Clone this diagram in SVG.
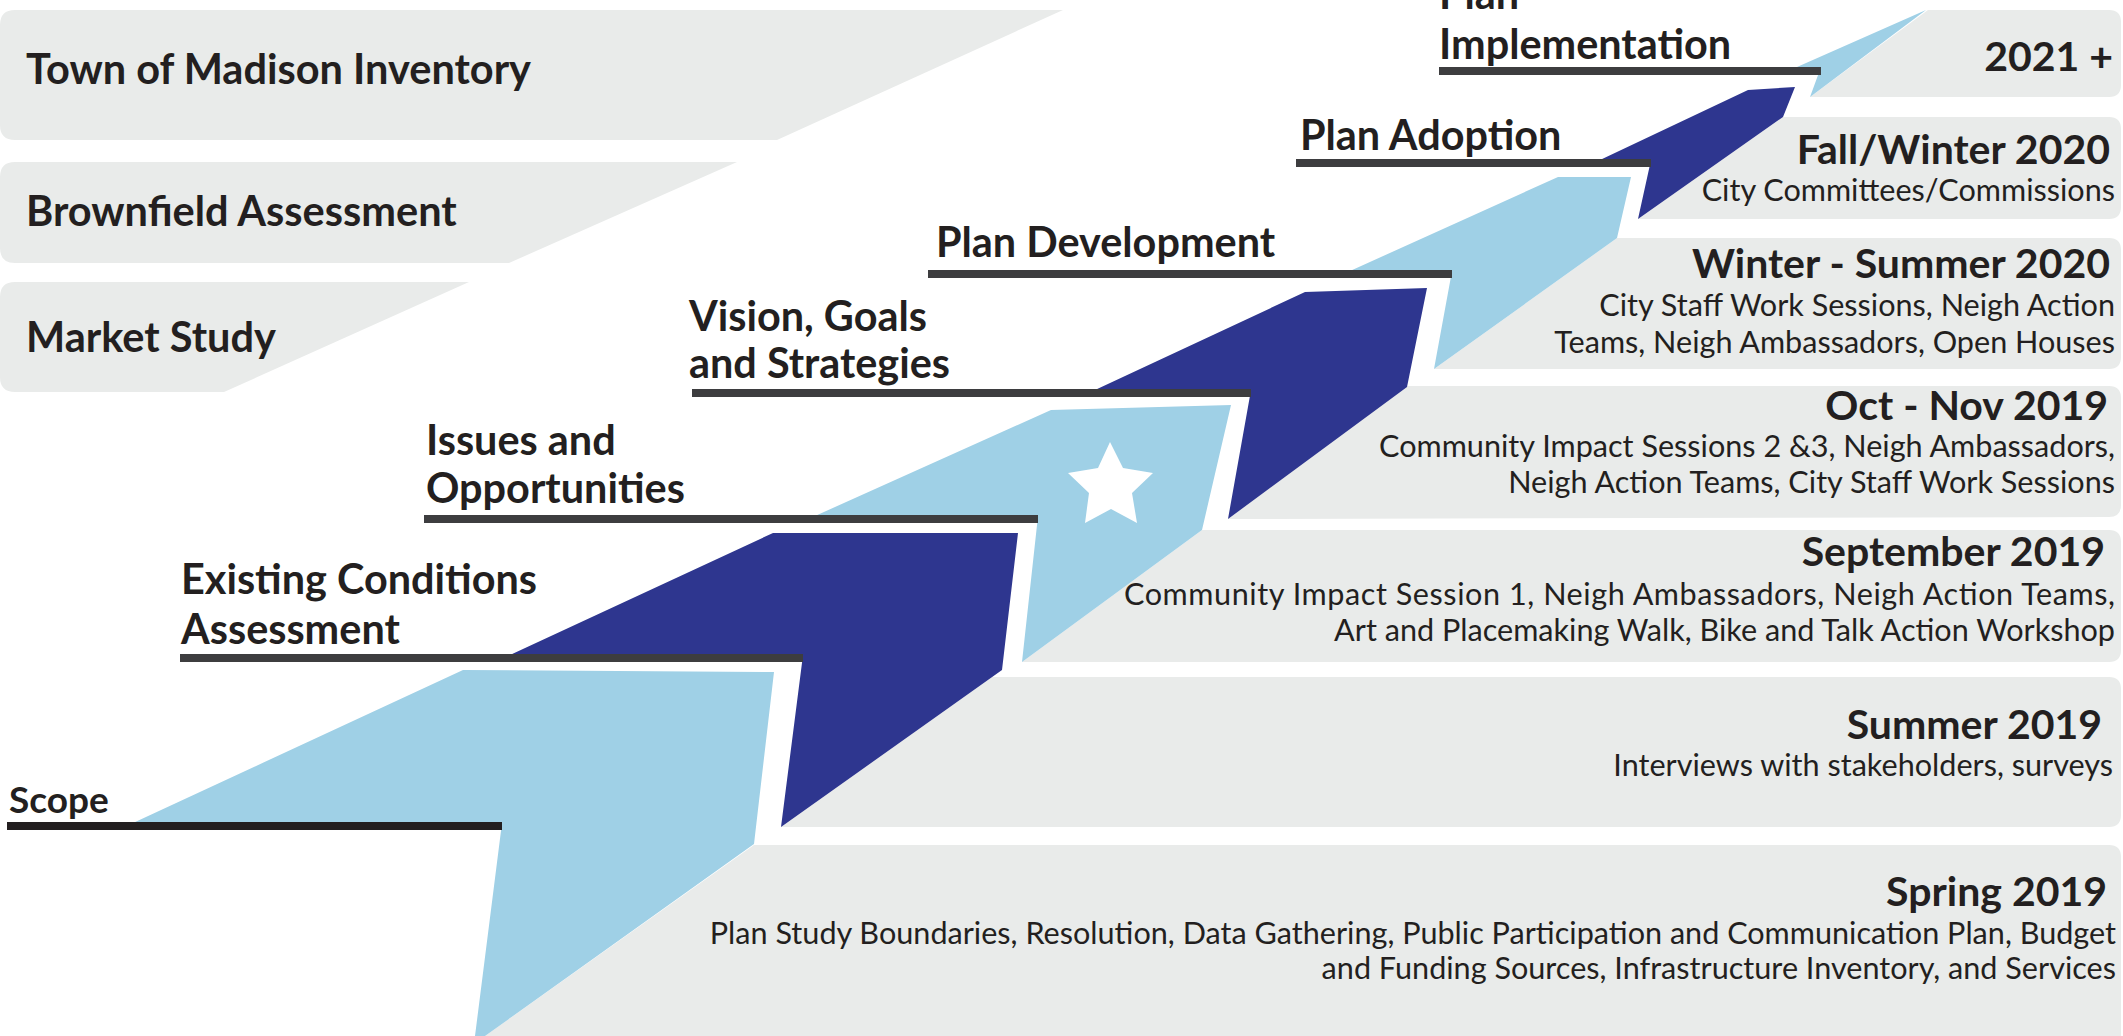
<svg xmlns="http://www.w3.org/2000/svg" width="2123" height="1036" viewBox="0 0 2123 1036">
<defs>
<style>
.grey{fill:#e9ebea}
.lb{fill:#9fd0e6}
.db{fill:#2e368f}
.line{fill:#3d3d3f}
.lbl{font-family:Lato,"Liberation Sans",sans-serif;font-weight:700;font-size:41.4px;fill:#231f20}
.box{font-family:Lato,"Liberation Sans",sans-serif;font-weight:700;font-size:41.5px;fill:#231f20}
.ttl{font-family:Lato,"Liberation Sans",sans-serif;font-weight:700;font-size:41px;fill:#231f20;text-anchor:end}
.sub{font-family:Lato,"Liberation Sans",sans-serif;font-weight:400;font-size:30.6px;fill:#231f20;text-anchor:end}
</style>
</defs>
<rect width="2123" height="1036" fill="#ffffff"/>

<g id="left-boxes">
<g id="town-of-madison">
<path class="grey" d="M15,10 L1063,10 L777,140 L15,140 Q0,140 0,125 L0,25 Q0,10 15,10 Z"/>
<text class="box" x="26" y="84">Town of Madison Inventory</text>
</g>
<g id="brownfield">
<path class="grey" d="M15,162 L737,162 L509,263 L15,263 Q0,263 0,248 L0,177 Q0,162 15,162 Z"/>
<text class="box" x="26" y="226">Brownfield Assessment</text>
</g>
<g id="market-study">
<path class="grey" d="M15,282 L469,282 L224,392 L15,392 Q0,392 0,377 L0,297 Q0,282 15,282 Z"/>
<text class="box" x="26" y="352">Market Study</text>
</g>
</g>

<g id="right-boxes">
<g id="y2021">
<path class="grey" d="M1928,10 L2109,10 Q2121,10 2121,22 L2121,85 Q2121,97 2109,97 L1810,97 Z"/>
<text class="ttl" x="2113" y="71">2021 +</text>
</g>
<g id="fall-winter-2020">
<path class="grey" d="M1783,117 L2109,117 Q2121,117 2121,129 L2121,207 Q2121,219 2109,219 L1638,219 Z"/>
<text class="ttl" x="2110" y="164">Fall/Winter 2020</text>
<text class="sub" x="2115" y="201">City Committees/Commissions</text>
</g>
<g id="winter-summer-2020">
<path class="grey" d="M1617,238 L2109,238 Q2121,238 2121,250 L2121,357 Q2121,369 2109,369 L1434,369 Z"/>
<text class="ttl" x="2110" y="278">Winter - Summer 2020</text>
<text class="sub" x="2115" y="316">City Staff Work Sessions, Neigh Action</text>
<text class="sub" x="2115" y="353">Teams, Neigh Ambassadors, Open Houses</text>
</g>
<g id="oct-nov-2019">
<path class="grey" d="M1407,386 L2109,386 Q2121,386 2121,398 L2121,505 Q2121,517 2109,517 L1228,519 Z"/>
<text class="ttl" x="2108" y="420">Oct - Nov 2019</text>
<text class="sub" x="2115" y="457">Community Impact Sessions 2 &amp;3, Neigh Ambassadors,</text>
<text class="sub" x="2115" y="493">Neigh Action Teams, City Staff Work Sessions</text>
</g>
<g id="september-2019">
<path class="grey" d="M1202,530 L2109,530 Q2121,530 2121,542 L2121,650 Q2121,662 2109,662 L1022,662 Z"/>
<text class="ttl" x="2105" y="566">September 2019</text>
<text class="sub" x="2115" y="605" textLength="991" lengthAdjust="spacing">Community Impact Session 1, Neigh Ambassadors, Neigh Action Teams,</text>
<text class="sub" x="2115" y="641">Art and Placemaking Walk, Bike and Talk Action Workshop</text>
</g>
<g id="summer-2019">
<path class="grey" d="M992,677 L2109,677 Q2121,677 2121,689 L2121,815 Q2121,827 2109,827 L781,827 Z"/>
<text class="ttl" x="2102" y="739">Summer 2019</text>
<text class="sub" x="2113" y="776">Interviews with stakeholders, surveys</text>
</g>
<g id="spring-2019">
<path class="grey" d="M754,845 L2109,845 Q2121,845 2121,857 L2121,1036 L485,1036 Z"/>
<text class="ttl" x="2107" y="906">Spring 2019</text>
<text class="sub" x="2116" y="944">Plan Study Boundaries, Resolution, Data Gathering, Public Participation and Communication Plan, Budget</text>
<text class="sub" x="2116" y="979">and Funding Sources, Infrastructure Inventory, and Services</text>
</g>
</g>

<g id="steps">
<polygon class="lb" points="133,823 463,670 774,672 754,844 485,1036 475,1036 502,823"/>
<polygon class="db" points="510,655 773,533 1018,533 1002,670 781,827 803,655"/>
<polygon class="lb" points="815,516 1051,410 1231,405 1202,530 1022,662 1038,516"/>
<polygon id="star" fill="#ffffff" points="1110,442 1123,468 1153,473 1132,493 1137,523 1111,509 1085,523 1089,493 1068,473 1098,468"/>
<polygon class="db" points="1095,390 1305,292 1427,288 1407,387 1228,519 1251,390"/>
<polygon class="lb" points="1350,271 1558,177 1631,177 1617,238 1434,369 1452,271"/>
<polygon class="db" points="1600,160 1748,90 1795,87 1783,117 1638,219 1651,160"/>
<polygon class="lb" points="1797,67 1926,10 1810,97 1821,67"/>
</g>

<g id="connectors">
<rect x="7" y="822" width="495" height="8" fill="#231f20"/>
<rect class="line" x="180" y="654" width="623" height="8"/>
<rect class="line" x="424" y="515" width="614" height="8"/>
<rect class="line" x="692" y="389" width="559" height="8"/>
<rect class="line" x="928" y="270" width="524" height="8"/>
<rect class="line" x="1296" y="159" width="355" height="8"/>
<rect class="line" x="1439" y="67" width="382" height="8"/>
</g>

<g id="labels">
<g id="scope"><text class="lbl" style="font-size:37px" x="9" y="813">Scope</text></g>
<g id="existing-conditions"><text class="lbl" x="181" y="594">Existing Conditions</text><text class="lbl" x="181" y="644">Assessment</text></g>
<g id="issues"><text class="lbl" x="426" y="455">Issues and</text><text class="lbl" x="426" y="503">Opportunities</text></g>
<g id="vision"><text class="lbl" x="689" y="331">Vision, Goals</text><text class="lbl" x="689" y="378">and Strategies</text></g>
<g id="plan-development"><text class="lbl" x="936" y="257">Plan Development</text></g>
<g id="plan-adoption"><text class="lbl" x="1300" y="150">Plan Adoption</text></g>
<g id="plan-implementation"><text class="lbl" x="1439" y="9">Plan</text><text class="lbl" x="1439" y="59">Implementation</text></g>
</g>
</svg>
